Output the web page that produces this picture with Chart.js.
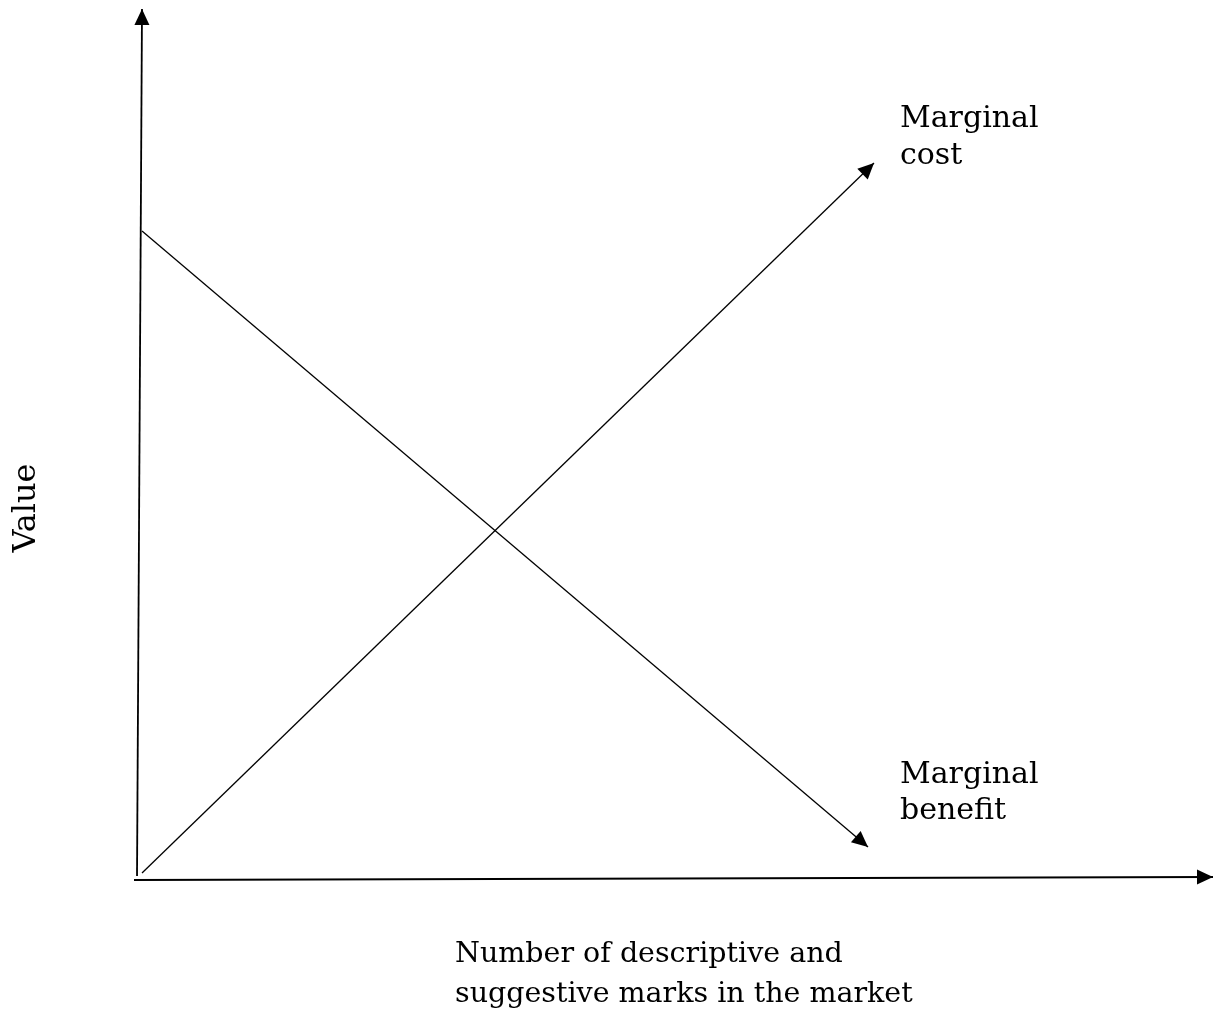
<!DOCTYPE html>
<html>
<head>
<meta charset="utf-8">
<script src="https://cdn.jsdelivr.net/npm/chart.js@4.4.1/dist/chart.umd.min.js"></script>
<style>
  body { margin: 0; background: #fff; }
  canvas { display: block; }
</style>
</head>
<body>
<canvas id="myChart" width="1214" height="1009"></canvas>
<script>
// puntos (unidades arbitrarias del eje)
const ejeY = [{x: -0.5, y: 0.1}, {x: 0, y: 86.8}];
const ejeX = [{x: -0.8, y: -0.3}, {x: 107.1, y: 0}];
const costoMarginal = [{x: 0, y: 0.4}, {x: 73.2, y: 71.4}];
const beneficioMarginal = [{x: 0, y: 64.6}, {x: 72.6, y: 3.0}];

const etiquetaCosto = ["Marginal", "cost"];
const etiquetaBeneficio = ["Marginal", "benefit"];
const tituloX = ["Number of descriptive and", "suggestive marks in the market"];
const tituloY = "Value";

const familia = '"DejaVu Serif", "Liberation Serif", serif';

// dibuja la punta de flecha al final de cada linea
const flechas = {
    id: 'flechas',
    afterDatasetsDraw(chart) {
        const ctx = chart.ctx;
        chart.data.datasets.forEach((ds, i) => {
            const pts = chart.getDatasetMeta(i).data;
            const a = pts[pts.length - 2];
            const b = pts[pts.length - 1];
            const ang = Math.atan2(b.y - a.y, b.x - a.x);
            const largo = 16, ancho = 7.5;
            ctx.save();
            ctx.translate(b.x, b.y);
            ctx.rotate(ang);
            ctx.beginPath();
            ctx.moveTo(0, 0);
            ctx.lineTo(-largo, -ancho);
            ctx.lineTo(-largo, ancho);
            ctx.closePath();
            ctx.fillStyle = '#000';
            ctx.fill();
            ctx.restore();
        });
    }
};

// textos del grafico
const textos = {
    id: 'textos',
    afterDraw(chart) {
        const ctx = chart.ctx;
        const sx = chart.scales.x, sy = chart.scales.y;
        ctx.save();
        ctx.fillStyle = '#000';
        ctx.font = '30px ' + familia;
        ctx.textAlign = 'left';
        ctx.textBaseline = 'alphabetic';

        etiquetaCosto.forEach((t, i) => {
            ctx.fillText(t, sx.getPixelForValue(75.8), sy.getPixelForValue(75) + i * 37);
        });
        etiquetaBeneficio.forEach((t, i) => {
            ctx.fillText(t, sx.getPixelForValue(75.8), sy.getPixelForValue(9.4) + i * 36);
        });

        ctx.font = '28.5px ' + familia;
        tituloX.forEach((t, i) => {
            ctx.fillText(t, sx.getPixelForValue(31.3), sy.getPixelForValue(-8.5) + i * 40);
        });

        ctx.font = '32px ' + familia;
        ctx.translate(35, sy.getPixelForValue(36.9));
        ctx.rotate(-Math.PI / 2);
        ctx.textAlign = 'center';
        ctx.fillText(tituloY, 0, 0);
        ctx.restore();
    }
};

const fondo = {
    id: 'fondo',
    beforeDraw(chart) {
        const ctx = chart.ctx;
        ctx.save();
        ctx.fillStyle = '#fff';
        ctx.fillRect(0, 0, chart.width, chart.height);
        ctx.restore();
    }
};

const linea = (data, grosor) => ({
    data: data,
    showLine: true,
    borderColor: '#000',
    borderWidth: grosor,
    pointRadius: 0,
    pointHoverRadius: 0,
    clip: false,
    tension: 0
});

new Chart(document.getElementById('myChart'), {
    type: 'scatter',
    data: {
        datasets: [
            linea(ejeY, 1.8),
            linea(ejeX, 1.8),
            linea(costoMarginal, 1.3),
            linea(beneficioMarginal, 1.3)
        ]
    },
    options: {
        responsive: false,
        animation: false,
        events: [],
        layout: { padding: { left: 142, right: 2, top: 8, bottom: 132 } },
        plugins: { legend: { display: false }, tooltip: { enabled: false } },
        scales: {
            x: { type: 'linear', min: 0, max: 107, display: false },
            y: { type: 'linear', min: 0, max: 86.9, display: false }
        }
    },
    plugins: [fondo, flechas, textos]
});
</script>
</body>
</html>
